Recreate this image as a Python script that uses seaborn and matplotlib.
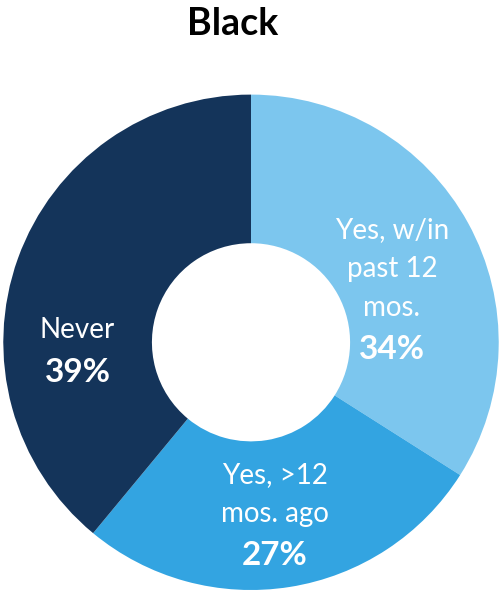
import matplotlib
matplotlib.use("Agg")
import matplotlib.pyplot as plt
import seaborn as sns

sns.set_theme(style="white")
plt.rcParams['font.family'] = ['Lato', 'DejaVu Sans']

title = "Black"
categories = ["Yes, w/in\npast 12\nmos.", "Yes, >12\nmos. ago", "Never"]
values = [34, 27, 39]
pct_labels = ["34%", "27%", "39%"]
colors = ["#7CC6EE", "#33A4E1", "#14345A"]

# label anchor (x, first-line baseline y) in axes data units (text placement only)
label_pos = [(0.569, 0.419), (0.097, -0.569), (-0.70, 0.016)]
line_step = 0.156

fig = plt.figure(figsize=(5.0, 5.92), dpi=100)
R_px = 247.7
cx, cy = 251, 342.3
W, H = 500, 592
ax = fig.add_axes([(cx - R_px) / W, (H - cy - R_px) / H, 2 * R_px / W, 2 * R_px / H])

ax.pie(values, colors=colors, startangle=90, counterclock=False,
       radius=1.0, wedgeprops=dict(width=0.6, linewidth=0))
ax.set_xlim(-1, 1)
ax.set_ylim(-1, 1)
ax.set_aspect('equal')
ax.axis('off')

for cat, pct, (x, y) in zip(categories, pct_labels, label_pos):
    lines = cat.split("\n")
    for i, line in enumerate(lines):
        ax.text(x, y - i * line_step, line, ha='center', va='baseline',
                fontsize=20, color='white')
    ax.text(x, y - len(lines) * line_step - 0.02, pct, ha='center', va='baseline',
            fontsize=24, fontweight='bold', color='white')

fig.text(233 / W, 1 - 35 / H, title, ha='center', va='baseline',
         fontsize=27, fontweight='bold', color='black')

fig.savefig("out.png", dpi=100)
